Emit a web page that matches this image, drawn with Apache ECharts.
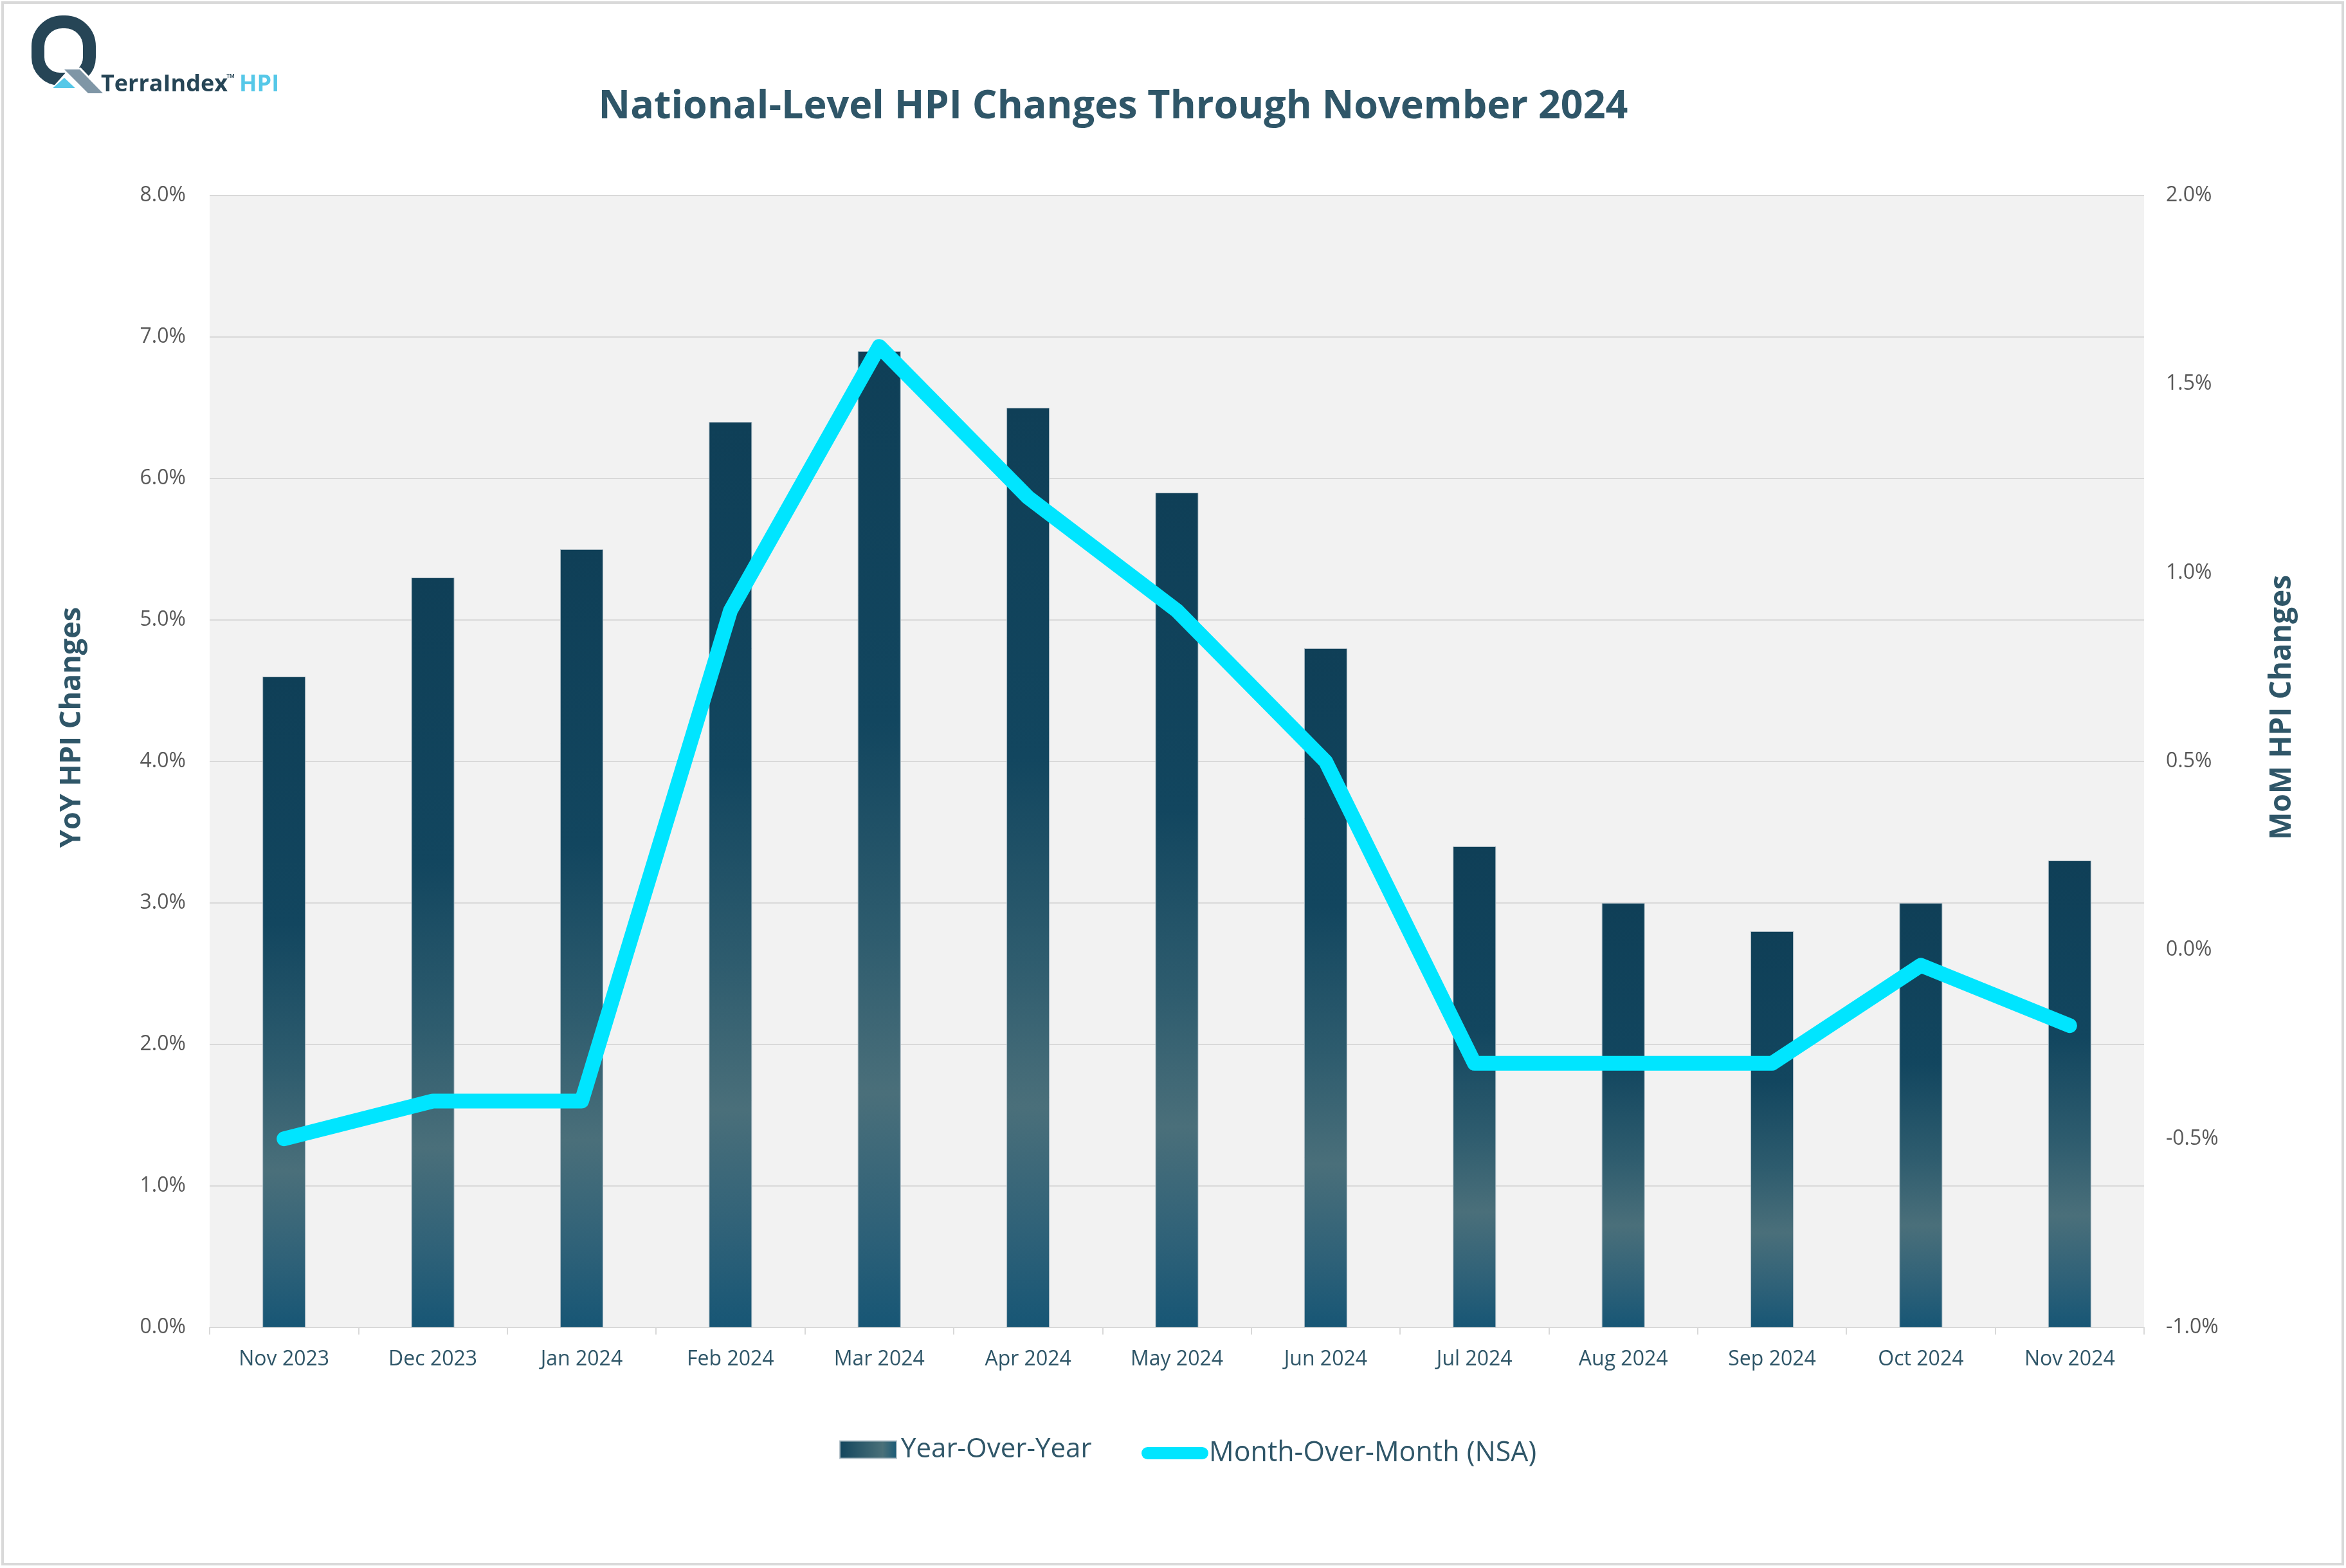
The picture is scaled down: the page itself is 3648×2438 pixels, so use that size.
<!DOCTYPE html>
<html>
<head>
<meta charset="utf-8">
<script src="https://cdn.jsdelivr.net/npm/echarts@6/dist/echarts.min.js"></script>
<style>
html,body{margin:0;padding:0;background:#ffffff;}
#chart{width:3648px;height:2438px;}
</style>
</head>
<body>
<div id="chart"></div>
<script>
const categories = ['Nov 2023','Dec 2023','Jan 2024','Feb 2024','Mar 2024','Apr 2024','May 2024','Jun 2024','Jul 2024','Aug 2024','Sep 2024','Oct 2024','Nov 2024'];
const yoyValues = [4.6, 5.3, 5.5, 6.4, 6.9, 6.5, 5.9, 4.8, 3.4, 3.0, 2.8, 3.0, 3.3];
const momValues = [-0.5, -0.4, -0.4, 0.9, 1.6, 1.2, 0.9, 0.5, -0.3, -0.3, -0.3, -0.04, -0.2];
const leftAxisTicks = {min: 0, max: 8, interval: 1};
const rightAxisTicks = {min: -1, max: 2, interval: 0.5};
const titleText = 'National-Level HPI Changes Through November 2024';
const yoyName = 'Year-Over-Year';
const momName = 'Month-Over-Month (NSA)';

const FONT = '"Open Sans", "Noto Sans", sans-serif';
const TEAL = '#2f5668';
const chart = echarts.init(document.getElementById('chart'), null, {renderer: 'canvas'});

const barGradient = new echarts.graphic.LinearGradient(0, 0, 0, 1, [
  {offset: 0, color: '#0f3f57'},
  {offset: 0.38, color: '#12465f'},
  {offset: 0.6, color: '#2e5c6e'},
  {offset: 0.76, color: '#4a6f7a'},
  {offset: 0.9, color: '#2e6178'},
  {offset: 1, color: '#175675'}
]);
const legendGradient = new echarts.graphic.LinearGradient(0, 0, 1, 0, [
  {offset: 0, color: '#12455d'},
  {offset: 0.75, color: '#4a7079'},
  {offset: 1, color: '#1a5a76'}
]);

const option = {
  backgroundColor: '#ffffff',
  animation: false,
  title: {
    text: titleText,
    left: 1731,
    top: 136,
    textAlign: 'center',
    padding: 0,
    textStyle: {fontFamily: FONT, fontWeight: 'bold', fontSize: 61, color: TEAL}
  },
  legend: [
    {
      data: [{name: yoyName, icon: 'rect', itemStyle: {color: legendGradient}}],
      left: 1305, top: 2233, padding: 0,
      itemWidth: 88, itemHeight: 27,
      textStyle: {fontFamily: FONT, fontSize: 42, color: TEAL, padding: [0,0,0,2]}
    },
    {
      data: [{name: momName, icon: 'path://M9.5,0H94.5A9.5,9.5,0,0,1,94.5,19H9.5A9.5,9.5,0,0,1,9.5,0Z', itemStyle: {color: '#00e5ff'}}],
      left: 1775, top: 2238, padding: 0,
      itemWidth: 104, itemHeight: 19,
      textStyle: {fontFamily: FONT, fontSize: 43, color: TEAL, padding: [0,0,0,-4]}
    }
  ],
  grid: {
    left: 326, right: 314, top: 304, bottom: 374,
    show: true, backgroundColor: '#f2f2f2', borderWidth: 0
  },
  xAxis: {
    type: 'category',
    data: categories,
    axisLine: {show: true, lineStyle: {color: '#d9d9d9', width: 2}},
    axisTick: {show: true, length: 11, lineStyle: {color: '#d9d9d9', width: 2}},
    axisLabel: {fontFamily: FONT, fontSize: 32, color: TEAL, margin: 34}
  },
  yAxis: [
    {
      type: 'value',
      min: leftAxisTicks.min, max: leftAxisTicks.max, interval: leftAxisTicks.interval,
      axisLine: {show: false}, axisTick: {show: false},
      splitLine: {show: true, lineStyle: {color: '#d9d9d9', width: 2}},
      axisLabel: {fontFamily: FONT, fontSize: 32, color: '#595959', margin: 37,
        formatter: v => v.toFixed(1) + '%'}
    },
    {
      type: 'value',
      min: rightAxisTicks.min, max: rightAxisTicks.max, interval: rightAxisTicks.interval,
      axisLine: {show: false}, axisTick: {show: false},
      splitLine: {show: false},
      axisLabel: {fontFamily: FONT, fontSize: 32, color: '#595959', margin: 34,
        formatter: v => v.toFixed(1) + '%'}
    }
  ],
  series: [
    {
      name: yoyName,
      type: 'bar',
      yAxisIndex: 0,
      data: yoyValues,
      barWidth: 67,
      itemStyle: {color: barGradient, borderColor: 'rgba(175,190,198,0.9)', borderWidth: 1}
    },
    {
      name: momName,
      type: 'line',
      yAxisIndex: 1,
      data: momValues,
      symbol: 'none',
      z: 5,
      lineStyle: {color: '#00e5ff', width: 23, cap: 'round', join: 'round'},
      itemStyle: {color: '#00e5ff'}
    }
  ],
  graphic: [
    {type: 'rect', silent: true, z: -10, shape: {x: 4, y: 4, width: 3639, height: 2428},
      style: {fill: 'none', stroke: '#d9d9d9', lineWidth: 4}},
    {type: 'text', x: 112, y: 1131, rotation: Math.PI / 2,
      style: {text: 'YoY HPI Changes', font: 'bold 45px ' + FONT, fill: TEAL, align: 'center', verticalAlign: 'middle'}},
    {type: 'text', x: 3549, y: 1100, rotation: Math.PI / 2,
      style: {text: 'MoM HPI Changes', font: 'bold 46px ' + FONT, fill: TEAL, align: 'center', verticalAlign: 'middle'}},
    // logo
    {type: 'rect', shape: {x: 59, y: 34, width: 80, height: 89, r: [38, 38, 34, 34]},
      style: {fill: 'none', stroke: '#264556', lineWidth: 20}},
    {type: 'polygon', shape: {points: [[76,142],[102,113],[104,106],[126,106],[162,146]]},
      style: {fill: '#ffffff'}},
    {type: 'polygon', shape: {points: [[82,137],[100,121],[117,137]]},
      style: {fill: '#56c8e8'}},
    {type: 'polygon', shape: {points: [[100,108],[124,108],[160,145],[137,145]]},
      style: {fill: '#7f96a6', stroke: '#ffffff', lineWidth: 6}},
    {type: 'polygon', shape: {points: [[100,108],[124,108],[160,145],[137,145]]},
      style: {fill: '#7f96a6'}},
    {type: 'text', x: 157, y: 132,
      style: {text: 'TerraIndex', font: 'bold 36px ' + FONT, fill: '#264556', align: 'left', verticalAlign: 'middle'}},
    {type: 'text', x: 352, y: 122,
      style: {text: '™', font: 'bold 17px ' + FONT, fill: '#264556', align: 'left', verticalAlign: 'middle'}},
    {type: 'text', x: 372, y: 132,
      style: {text: 'HPI', font: 'bold 36px ' + FONT, fill: '#56c8e8', align: 'left', verticalAlign: 'middle'}}
  ]
};
chart.setOption(option);
</script>
</body>
</html>
